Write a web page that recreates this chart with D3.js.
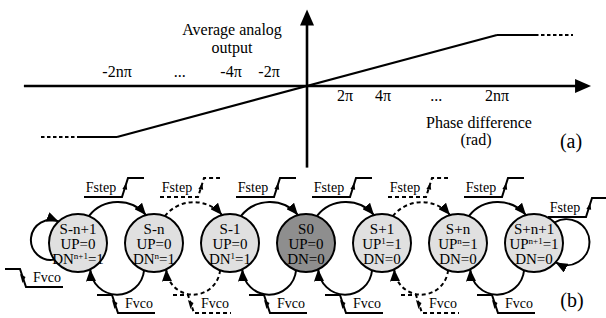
<!DOCTYPE html>
<html><head><meta charset="utf-8">
<script src="https://cdn.jsdelivr.net/npm/d3@7"></script>
<style>
html,body{margin:0;padding:0;background:#fff;}
svg{display:block;font-family:"Liberation Serif","Times New Roman",serif;}
</style></head>
<body>
<svg id="c" width="606" height="318"></svg>
<script>
// ---------- (a) transfer characteristic ----------
const phase  = [-14, -12, -10, 10, 12, 14];          // phase difference in units of pi
const output = [-1, -1, -1, 1, 1, 1];                // normalised average analog output
const segStyle = ["dashed", "solid", "solid", "solid", "dashed"];
const leftTickVals  = [-10, -6.7, -4, -2];
const leftTickLabels = ["-2nπ", "...", "-4π", "-2π"];
const rightTickVals = [2, 4, 6.8, 10];
const rightTickLabels = ["2π", "4π", "...", "2nπ"];

// ---------- (b) state diagram ----------
const states  = ["S-n+1", "S-n", "S-1", "S0", "S+1", "S+n", "S+n+1"];
const upBase  = ["UP", "UP", "UP", "UP", "UP", "UP", "UP"];
const upSup   = ["", "", "", "", "1", "n", "n+1"];
const upVal   = ["0", "0", "0", "0", "1", "1", "1"];
const dnSup   = ["n+1", "n", "1", "", "", "", ""];
const dnVal   = ["1", "1", "1", "0", "0", "0", "0"];
const centerState = "S0";
const arcStyle = ["solid", "dashed", "solid", "solid", "dashed", "solid"]; // between state i and i+1

const svg = d3.select("#c");
const black = "#000";

svg.append("defs").append("marker")
  .attr("id", "arr").attr("viewBox", "0 0 12 10")
  .attr("refX", 12).attr("refY", 5)
  .attr("markerWidth", 12).attr("markerHeight", 10)
  .attr("markerUnits", "userSpaceOnUse").attr("orient", "auto")
  .append("path").attr("d", "M0,0 L12,5 L0,10 Z").attr("fill", black);

// scales for (a)
const x = d3.scaleLinear().domain([0, 10]).range([307, 497]);
const y = d3.scaleLinear().domain([-1, 1]).range([137, 35]);
const ga = svg.append("g");

// axes
const xa0 = x(-14.9), xa1 = x(14.95), y0 = y(0);
ga.append("line").attr("x1", xa0).attr("x2", xa1 - 10).attr("y1", y0).attr("y2", y0)
  .attr("stroke", black).attr("stroke-width", 2.6);
ga.append("path").attr("d", `M${xa1},${y0} L${xa1 - 16},${y0 - 7} L${xa1 - 16},${y0 + 7} Z`).attr("fill", black);
const ya0 = y(-1.6), ya1 = y(1.5);
ga.append("line").attr("x1", x(0)).attr("x2", x(0)).attr("y1", ya0).attr("y2", ya1 + 10)
  .attr("stroke", black).attr("stroke-width", 2.6);
ga.append("path").attr("d", `M${x(0)},${ya1} L${x(0) - 7},${ya1 + 16} L${x(0) + 7},${ya1 + 16} Z`).attr("fill", black);

// curve
const pts = phase.map((p, i) => [x(p), y(output[i])]);
for (let i = 0; i < pts.length - 1; i++) {
  ga.append("path").attr("d", d3.line()([pts[i], pts[i + 1]]))
    .attr("stroke", black).attr("stroke-width", 2.2).attr("fill", "none")
    .attr("stroke-dasharray", segStyle[i] === "dashed" ? "3.5,2.5" : null);
}

// tick labels
ga.selectAll("text.lt").data(leftTickVals).join("text").attr("class", "lt")
  .attr("x", d => x(d)).attr("y", 77).attr("text-anchor", "middle").attr("font-size", 16)
  .text((d, i) => leftTickLabels[i]);
ga.selectAll("text.rt").data(rightTickVals).join("text").attr("class", "rt")
  .attr("x", d => x(d)).attr("y", 101).attr("text-anchor", "middle").attr("font-size", 16)
  .text((d, i) => rightTickLabels[i]);

// titles
const t = (s, xx, yy, fs) => svg.append("text").attr("x", xx).attr("y", yy)
  .attr("text-anchor", "middle").attr("font-size", fs).text(s);
t("Average analog", 232, 35, 16);
t("output", 232, 53, 16);
t("Phase difference", 479, 128, 16);
t("(rad)", 476, 145, 16);
t("(a)", 571, 148, 20);
t("(b)", 572, 307, 20);

// ---------- (b) ----------
const sx = d3.scalePoint().domain(states).range([78, 534]);
const cy = 243, R = 29;
const gb = svg.append("g");
const onCircle = (cx, deg) => [cx + R * Math.cos(deg * Math.PI / 180), cy + R * Math.sin(deg * Math.PI / 180)];
const dash = s => s === "dashed" ? "4,3" : null;

function stepUp(m, dy, style) {
  const yb = 197 + dy, yt = 178 + dy;
  gb.append("path").attr("d", `M${m - 32},${yb} L${m + 6},${yb} L${m + 12},${yt} L${m + 28},${yt}`)
    .attr("fill", "none").attr("stroke", black).attr("stroke-width", 2).attr("stroke-dasharray", dash(style));
  const ax = m + 9, ay = (yb + yt) / 2;
  gb.append("path").attr("d", `M${ax + 1.2},${ay - 4.5} L${ax - 2.6},${ay + 1.5} L${ax + 2.2},${ay + 2.3} Z`).attr("fill", black);
  gb.append("text").attr("x", m - 15).attr("y", 192 + dy).attr("text-anchor", "middle")
    .attr("font-size", 14).text("Fstep");
}
function stepDown(m, dy, style) {
  const yt = 295 + dy, yb = 313 + dy;
  gb.append("path").attr("d", `M${m - 19},${yt} L${m - 4},${yt} L${m + 2},${yb} L${m + 39},${yb}`)
    .attr("fill", "none").attr("stroke", black).attr("stroke-width", 2).attr("stroke-dasharray", dash(style));
  const ax = m - 1, ay = (yb + yt) / 2;
  gb.append("path").attr("d", `M${ax - 3},${ay - 4} L${ax + 2.5},${ay - 1} L${ax - 0.5},${ay + 5} Z`).attr("fill", black);
  gb.append("text").attr("x", m + 23).attr("y", 308 + dy).attr("text-anchor", "middle")
    .attr("font-size", 14).text("Fvco");
}

// transitions between neighbouring states
for (let i = 0; i < states.length - 1; i++) {
  const c1 = sx(states[i]), c2 = sx(states[i + 1]);
  const st = arcStyle[i];
  const a = onCircle(c1, -68), b = onCircle(c2, -106);
  gb.append("path").attr("d", `M${a[0]},${a[1]} A37,37 0 0 1 ${b[0]},${b[1]}`)
    .attr("fill", "none").attr("stroke", black).attr("stroke-width", 2)
    .attr("stroke-dasharray", dash(st)).attr("marker-end", "url(#arr)");
  const c = onCircle(c2, 110), d = onCircle(c1, 65);
  gb.append("path").attr("d", `M${c[0]},${c[1]} A27,27 0 0 1 ${d[0]},${d[1]}`)
    .attr("fill", "none").attr("stroke", black).attr("stroke-width", 2)
    .attr("stroke-dasharray", dash(st)).attr("marker-end", "url(#arr)");
  const m = (c1 + c2) / 2;
  stepUp(m, 0, st);
  stepDown(m, 0, st);
}

// self loops
const first = sx(states[0]), last = sx(states[states.length - 1]);
{
  const a = onCircle(first, 145), b = onCircle(first, -132);
  gb.append("path").attr("d", `M${a[0]},${a[1]} A20,20 0 1 1 ${b[0]},${b[1]}`)
    .attr("fill", "none").attr("stroke", black).attr("stroke-width", 2).attr("marker-end", "url(#arr)");
  stepDown(first - 54, -26, "solid");
  const c = onCircle(last, -45), d = onCircle(last, 42);
  gb.append("path").attr("d", `M${c[0]},${c[1]} A23,23 0 1 1 ${d[0]},${d[1]}`)
    .attr("fill", "none").attr("stroke", black).attr("stroke-width", 2).attr("marker-end", "url(#arr)");
  stepUp(last + 46, 20, "solid");
}

// state circles
const node = gb.selectAll("g.node").data(states).join("g").attr("class", "node")
  .attr("transform", d => `translate(${sx(d)},${cy})`);
node.append("circle").attr("r", R)
  .attr("fill", d => d === centerState ? "#8e8e8e" : "#e0e0e0")
  .attr("stroke", black).attr("stroke-width", 2);
const fsz = 15;
node.append("text").attr("y", -9).attr("text-anchor", "middle").attr("font-size", fsz).text(d => d);
const l2 = node.append("text").attr("y", 6).attr("text-anchor", "middle").attr("font-size", fsz);
l2.append("tspan").text((d, i) => upBase[i]);
l2.append("tspan").attr("font-size", 9).attr("dy", (d, i) => upSup[i] ? -5 : 0).text((d, i) => upSup[i]);
l2.append("tspan").attr("dy", (d, i) => upSup[i] ? 5 : 0).text((d, i) => "=" + upVal[i]);
const l3 = node.append("text").attr("y", 21).attr("text-anchor", "middle").attr("font-size", fsz);
l3.append("tspan").text("DN");
l3.append("tspan").attr("font-size", 9).attr("dy", (d, i) => dnSup[i] ? -5 : 0).text((d, i) => dnSup[i]);
l3.append("tspan").attr("dy", (d, i) => dnSup[i] ? 5 : 0).text((d, i) => "=" + dnVal[i]);
</script>
</body></html>
